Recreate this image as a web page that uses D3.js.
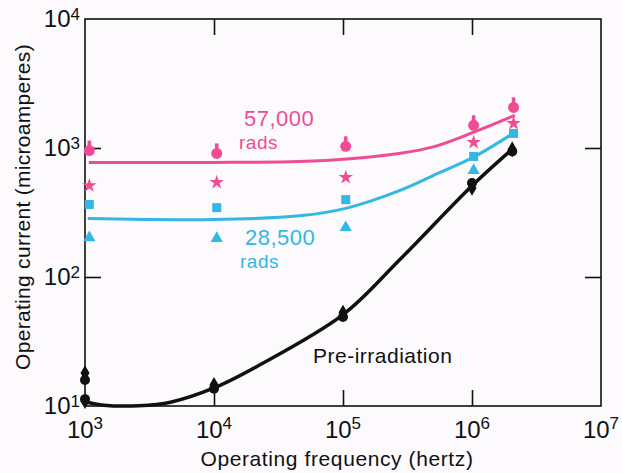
<!DOCTYPE html>
<html>
<head>
<meta charset="utf-8">
<script src="https://cdn.jsdelivr.net/npm/d3@7"></script>
<style>
  html, body { margin: 0; padding: 0; background: #fcfafc; }
  svg { display: block; font-family: "Liberation Sans", Arial, sans-serif; }
</style>
</head>
<body>
<svg id="chart" width="622" height="473"></svg>
<script>
// frequency ticks (exponents) and current ticks (exponents)
var xTickExp = [3, 4, 5, 6, 7]
var yTickExp = [1, 2, 3, 4]

// 57,000 rads: circles and stars
var radFreq = [1.08e3, 1.05e4, 1.05e5, 1.03e6, 2.1e6]
var pinkCircles = [955, 908, 1030, 1500, 2065]
var pinkStars = [512, 541, 592, 1107, 1550]
// 28,500 rads: squares and triangles
var cyanSquares = [365, 345, 398, 860, 1297]
var cyanTriangles = [202, 199, 242, 670]

// pre-irradiation points
var blackDiamonds = [[1e3, 18], [1e3, 10.9], [1e4, 14.6], [1e5, 53], [1e6, 490], [2.05e6, 980]]
var blackCircles = [[1e3, 15.9], [1e3, 11.3], [1e4, 13.6], [1e5, 49], [1e6, 535], [2.05e6, 940]]

// fitted curves
var pinkCurve = [[1.07e3, 773], [1e4, 773], [4.6e4, 785], [1.07e5, 820], [2.8e5, 910], [5.0e5, 1020], [1.02e6, 1320], [2.15e6, 1790]]
var cyanCurve = [[1.05e3, 284], [1e4, 279], [4.6e4, 298], [1.07e5, 342], [2.77e5, 469], [5.65e5, 647], [1.02e6, 846], [2.08e6, 1297]]
var blackCurve = [[1.0e3, 10.8], [1.4e3, 10.15], [2.6e3, 10.05], [4.6e3, 10.7], [1e4, 13.8], [2.2e4, 20.5], [1e5, 51], [2.75e5, 136], [1e6, 510], [2.05e6, 980]]

var pink = "#ef4c95", cyan = "#33b7e3", ink = "#111"

var svg = d3.select("#chart")

var x = d3.scaleLog().domain([1e3, 1e7]).range([85, 601])
var y = d3.scaleLog().domain([10, 1e4]).range([406, 19])

// frame
svg.append("rect")
  .attr("x", x(1e3)).attr("y", y(1e4))
  .attr("width", x(1e7) - x(1e3)).attr("height", y(10) - y(1e4))
  .attr("fill", "none").attr("stroke", ink).attr("stroke-width", 1.6)

// inward ticks
var inner = [1e4, 1e5, 1e6]
svg.append("g").attr("transform", "translate(0," + y(10) + ")")
  .call(d3.axisBottom(x).tickValues(inner).tickSize(-16).tickFormat(""))
svg.append("g").attr("transform", "translate(0," + y(1e4) + ")")
  .call(d3.axisTop(x).tickValues(inner).tickSize(-16).tickFormat(""))
svg.append("g").attr("transform", "translate(" + x(1e3) + ",0)")
  .call(d3.axisLeft(y).tickValues([100, 1000]).tickSize(-16).tickFormat(""))
svg.append("g").attr("transform", "translate(" + x(1e7) + ",0)")
  .call(d3.axisRight(y).tickValues([100, 1000]).tickSize(-16).tickFormat(""))
svg.selectAll(".domain").remove()
svg.selectAll(".tick line").attr("stroke", ink).attr("stroke-width", 1.6)

// tick labels with superscripts
svg.selectAll(".xlab").data(xTickExp).enter().append("text")
  .attr("x", function(d){ return x(Math.pow(10, d)) })
  .attr("y", 438)
  .attr("text-anchor", "middle")
  .attr("font-size", 24).attr("fill", ink)
  .each(function(d){
    var t = d3.select(this)
    t.append("tspan").text("10")
    t.append("tspan").attr("dy", -9).attr("font-size", 17).text(d)
  })

svg.selectAll(".ylab").data(yTickExp).enter().append("text")
  .attr("x", 80)
  .attr("y", function(d){ return y(Math.pow(10, d)) + 8 })
  .attr("text-anchor", "end")
  .attr("font-size", 24).attr("fill", ink)
  .each(function(d){
    var t = d3.select(this)
    t.append("tspan").text("10")
    t.append("tspan").attr("dy", -7).attr("font-size", 17).text(d)
  })

// axis titles
svg.append("text")
  .attr("x", 337).attr("y", 466)
  .attr("text-anchor", "middle").attr("font-size", 21).attr("fill", ink)
  .attr("letter-spacing", 0.6)
  .text("Operating frequency (hertz)")
svg.append("text")
  .attr("transform", "translate(30,207) rotate(-90)")
  .attr("text-anchor", "middle").attr("font-size", 21).attr("fill", ink)
  .attr("letter-spacing", 0.3)
  .text("Operating current (microamperes)")

// curves
var line = d3.line()
  .x(function(d){ return x(d[0]) })
  .y(function(d){ return y(d[1]) })
  .curve(d3.curveCatmullRom.alpha(0.5))

svg.append("path").datum(pinkCurve).attr("d", line)
  .attr("fill", "none").attr("stroke", pink).attr("stroke-width", 3)
svg.append("path").datum(cyanCurve).attr("d", line)
  .attr("fill", "none").attr("stroke", cyan).attr("stroke-width", 3)
svg.append("path").datum(blackCurve).attr("d", line)
  .attr("fill", "none").attr("stroke", ink).attr("stroke-width", 3.5)

// markers
var sym = function(type, size){ return d3.symbol().type(type).size(size) }

var pc = svg.selectAll(".pc").data(pinkCircles).enter().append("g")
  .attr("transform", function(d, i){ return "translate(" + x(radFreq[i]) + "," + y(d) + ")" })
pc.append("circle").attr("r", 5.5).attr("fill", pink)
pc.append("rect").attr("x", -1.8).attr("y", -10).attr("width", 3.6).attr("height", 6).attr("fill", pink)

svg.selectAll(".ps").data(pinkStars).enter().append("path")
  .attr("d", sym(d3.symbolStar, 65))
  .attr("transform", function(d, i){ return "translate(" + x(radFreq[i]) + "," + y(d) + ")" })
  .attr("fill", pink)

svg.selectAll(".cs").data(cyanSquares).enter().append("path")
  .attr("d", sym(d3.symbolSquare, 81))
  .attr("transform", function(d, i){ return "translate(" + x(radFreq[i]) + "," + y(d) + ")" })
  .attr("fill", cyan)

svg.selectAll(".ct").data(cyanTriangles).enter().append("path")
  .attr("d", sym(d3.symbolTriangle, 65))
  .attr("transform", function(d, i){ return "translate(" + x(radFreq[i]) + "," + y(d) + ")" })
  .attr("fill", cyan)

svg.selectAll(".bd").data(blackDiamonds).enter().append("path")
  .attr("d", sym(d3.symbolDiamond, 70))
  .attr("transform", function(d){ return "translate(" + x(d[0]) + "," + y(d[1]) + ")" })
  .attr("fill", ink)

svg.selectAll(".bc").data(blackCircles).enter().append("circle")
  .attr("cx", function(d){ return x(d[0]) })
  .attr("cy", function(d){ return y(d[1]) })
  .attr("r", 5).attr("fill", ink)

// curve labels
var labels = [
  {t: "57,000", x: 244, y: 126, s: 22, c: pink},
  {t: "rads", x: 239, y: 149, s: 19, c: pink},
  {t: "28,500", x: 245, y: 245, s: 22, c: cyan},
  {t: "rads", x: 240, y: 268, s: 19, c: cyan},
  {t: "Pre-irradiation", x: 313, y: 363, s: 21, c: ink}
]
svg.selectAll(".lab").data(labels).enter().append("text")
  .attr("x", function(d){ return d.x }).attr("y", function(d){ return d.y })
  .attr("font-size", function(d){ return d.s }).attr("fill", function(d){ return d.c })
  .attr("letter-spacing", 0.5)
  .text(function(d){ return d.t })
</script>
</body>
</html>
